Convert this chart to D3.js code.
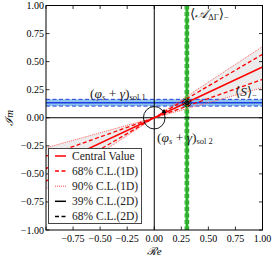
<!DOCTYPE html>
<html>
<head>
<meta charset="utf-8">
<script src="https://cdn.jsdelivr.net/npm/d3@7"></script>
<style>
  body { margin: 0; background: #fff; }
  text { font-family: "Liberation Serif", "DejaVu Serif", serif; }
</style>
</head>
<body>
<div id="chart"></div>
<script>
// axis ticks
const xTicks = [-1, -0.75, -0.5, -0.25, 0, 0.25, 0.5, 0.75, 1];
const yTicks = [-1, -0.75, -0.5, -0.25, 0, 0.25, 0.5, 0.75, 1];

// <S>_- wedge slopes (lines through the origin)
const slopeCentral = 0.452;
const slope68 = [0.342, 0.565];
const slope90 = [0.268, 0.634];

// <A_DeltaGamma>_- band (vertical) and (phi_s+gamma)_sol1 band (horizontal)
const aCentral = 0.302;
const aBand = [0.285, 0.318];
const phiCentral = 0.134;
const phiBand = [0.104, 0.164];

// 2D contour spot and reference circle
const spot = { x: 0.302, y: 0.134 };
const circleR = 0.1;

const legendItems = [
  { label: 'Central Value', color: 'red', dash: null },
  { label: '68% C.L.(1D)', color: 'red', dash: '4,2.5' },
  { label: '90% C.L.(1D)', color: '#ff8080', dash: '1,1' },
  { label: '39% C.L.(2D)', color: 'black', dash: null },
  { label: '68% C.L.(2D)', color: 'black', dash: '4,2.5' },
];

const width = 276, height = 257;
const area = { left: 46, right: 262.5, top: 5.5, bottom: 230 };

const svg = d3.select('#chart').append('svg')
  .attr('width', width).attr('height', height);

const x = d3.scaleLinear().domain([-1, 1]).range([area.left, area.right]);
const y = d3.scaleLinear().domain([-1, 1]).range([area.bottom, area.top]);

svg.append('clipPath').attr('id', 'clip')
  .append('rect')
  .attr('x', area.left).attr('y', area.top)
  .attr('width', area.right - area.left).attr('height', area.bottom - area.top);

const plot = svg.append('g').attr('clip-path', 'url(#clip)');

// grey wedge between the 90% lines, on both sides of the origin
const line = d3.line().x(d => x(d[0])).y(d => y(d[1]));
[1, -1].forEach(side => {
  plot.append('path')
    .attr('d', line([[0, 0], [side, side * slope90[0]], [side, side * slope90[1]]]) + 'Z')
    .attr('fill', '#ececec');
});

// horizontal blue band
plot.append('rect')
  .attr('x', area.left).attr('width', area.right - area.left)
  .attr('y', y(phiBand[1])).attr('height', y(phiBand[0]) - y(phiBand[1]))
  .attr('fill', '#8cc4ee');
phiBand.forEach(v => plot.append('line')
  .attr('x1', area.left).attr('x2', area.right).attr('y1', y(v)).attr('y2', y(v))
  .attr('stroke', '#1f3fe0').attr('stroke-width', 1).attr('stroke-dasharray', '4,2.5'));
plot.append('line')
  .attr('x1', area.left).attr('x2', area.right).attr('y1', y(phiCentral)).attr('y2', y(phiCentral))
  .attr('stroke', '#1f3fe0').attr('stroke-width', 1.5);

// vertical green band
plot.append('rect')
  .attr('y', area.top).attr('height', area.bottom - area.top)
  .attr('x', x(aBand[0])).attr('width', x(aBand[1]) - x(aBand[0]))
  .attr('fill', '#6fe86f');
aBand.forEach(v => plot.append('line')
  .attr('y1', area.top).attr('y2', area.bottom).attr('x1', x(v)).attr('x2', x(v))
  .attr('stroke', '#1a9a1a').attr('stroke-width', 1).attr('stroke-dasharray', '4,2.5'));
plot.append('line')
  .attr('y1', area.top).attr('y2', area.bottom).attr('x1', x(aCentral)).attr('x2', x(aCentral))
  .attr('stroke', '#1a9a1a').attr('stroke-width', 1.5);

// black axes through origin
plot.append('line')
  .attr('x1', x(0)).attr('x2', x(0)).attr('y1', area.top).attr('y2', area.bottom)
  .attr('stroke', 'black').attr('stroke-width', 1);
plot.append('line')
  .attr('x1', area.left).attr('x2', area.right).attr('y1', y(0)).attr('y2', y(0))
  .attr('stroke', 'black').attr('stroke-width', 1);

// red lines through the origin
const redLine = (s, dash, color, w) => plot.append('line')
  .attr('x1', x(-1)).attr('y1', y(-s)).attr('x2', x(1)).attr('y2', y(s))
  .attr('stroke', color).attr('stroke-width', w)
  .attr('stroke-dasharray', dash);
slope90.forEach(s => redLine(s, '1,1', '#ff6060', 1));
slope68.forEach(s => redLine(s, '4,2.5', 'red', 1.3));
redLine(slopeCentral, null, 'red', 1.5);

// circle around origin
plot.append('ellipse')
  .attr('cx', x(0)).attr('cy', y(0))
  .attr('rx', x(circleR) - x(0)).attr('ry', y(0) - y(circleR))
  .attr('fill', 'none').attr('stroke', 'black').attr('stroke-width', 0.9);
plot.append('path')
  .attr('d', d3.symbol(d3.symbolTriangle, 10)())
  .attr('transform', `translate(${x(0.09)},${y(0.055)}) rotate(120)`)
  .attr('fill', 'black');

// 2D contour spot at the crossing
plot.append('ellipse')
  .attr('cx', x(spot.x)).attr('cy', y(spot.y)).attr('rx', 4.2).attr('ry', 3.6)
  .attr('fill', 'none').attr('stroke', 'black').attr('stroke-width', 1).attr('stroke-dasharray', '2,1');
plot.append('ellipse')
  .attr('cx', x(spot.x)).attr('cy', y(spot.y)).attr('rx', 2.3).attr('ry', 2)
  .attr('fill', '#222').attr('stroke', 'black');

// frame
svg.append('rect')
  .attr('x', area.left).attr('y', area.top)
  .attr('width', area.right - area.left).attr('height', area.bottom - area.top)
  .attr('fill', 'none').attr('stroke', 'black').attr('stroke-width', 1);

// ticks, inward on all sides
const fmt = d => (d < 0 ? '\u2212' : '') + Math.abs(d).toFixed(2);
const tl = 3.5;
const ticks = svg.append('g').attr('stroke', 'black').attr('stroke-width', 0.8);
xTicks.forEach(t => {
  ticks.append('line').attr('x1', x(t)).attr('x2', x(t)).attr('y1', area.bottom).attr('y2', area.bottom - tl);
  ticks.append('line').attr('x1', x(t)).attr('x2', x(t)).attr('y1', area.top).attr('y2', area.top + tl);
});
yTicks.forEach(t => {
  ticks.append('line').attr('y1', y(t)).attr('y2', y(t)).attr('x1', area.left).attr('x2', area.left + tl);
  ticks.append('line').attr('y1', y(t)).attr('y2', y(t)).attr('x1', area.right).attr('x2', area.right - tl);
});

svg.append('g').selectAll('text')
  .data(xTicks.filter(t => t > -1))
  .join('text')
  .attr('x', d => x(d)).attr('y', area.bottom + 12)
  .attr('text-anchor', 'middle').attr('font-size', 10)
  .text(fmt);

svg.append('g').selectAll('text')
  .data(yTicks)
  .join('text')
  .attr('x', area.left - 2).attr('y', d => y(d) + 3.5)
  .attr('text-anchor', 'end').attr('font-size', 10)
  .text(fmt);

// axis labels
svg.append('text')
  .attr('x', x(0)).attr('y', 255)
  .attr('text-anchor', 'middle').attr('font-size', 11).attr('font-style', 'italic')
  .text('\u211Be');
svg.append('text')
  .attr('transform', `translate(13,${y(0)}) rotate(-90)`)
  .attr('text-anchor', 'middle').attr('font-size', 11).attr('font-style', 'italic')
  .text('\u2110m');

// annotations
const ann = svg.append('g').attr('font-size', 13.5).attr('fill', '#222');
ann.append('text').attr('x', 190).attr('y', 18)
  .html('\u27E8<tspan font-style="italic">\uD835\uDC9C</tspan><tspan font-size="8.5" dy="2">\u0394\u0393</tspan><tspan dy="-2">\u27E9</tspan><tspan font-size="8.5" dy="2">\u2212</tspan>');
ann.append('text').attr('x', 90).attr('y', 98)
  .html('(<tspan font-style="italic">\u03C6</tspan><tspan font-size="8.5" dy="2" font-style="italic">s</tspan><tspan dy="-2"> + </tspan><tspan font-style="italic">\u03B3</tspan>)<tspan font-size="8.5" dy="2">sol 1</tspan>');
ann.append('text').attr('x', 235).attr('y', 96)
  .html('\u27E8<tspan font-style="italic">S</tspan>\u27E9<tspan font-size="8.5" dy="2">\u2212</tspan>');
ann.append('text').attr('x', 157).attr('y', 142)
  .html('(<tspan font-style="italic">\u03C6</tspan><tspan font-size="8.5" dy="2" font-style="italic">s</tspan><tspan dy="-2"> + </tspan><tspan font-style="italic">\u03B3</tspan>)<tspan font-size="8.5" dy="2">sol 2</tspan>');

// legend
const lg = svg.append('g');
lg.append('rect')
  .attr('x', 48.5).attr('y', 148.5).attr('width', 93).attr('height', 75)
  .attr('fill', 'white').attr('stroke', '#444').attr('stroke-width', 1);
legendItems.forEach((d, i) => {
  const cy = 156 + i * 15.1;
  lg.append('line')
    .attr('x1', 55).attr('x2', 66).attr('y1', cy).attr('y2', cy)
    .attr('stroke', d.color).attr('stroke-width', 1.5)
    .attr('stroke-dasharray', d.dash);
  lg.append('text')
    .attr('x', 72).attr('y', cy + 3.8)
    .attr('font-size', 11.5).attr('fill', '#222')
    .text(d.label);
});
</script>
</body>
</html>
